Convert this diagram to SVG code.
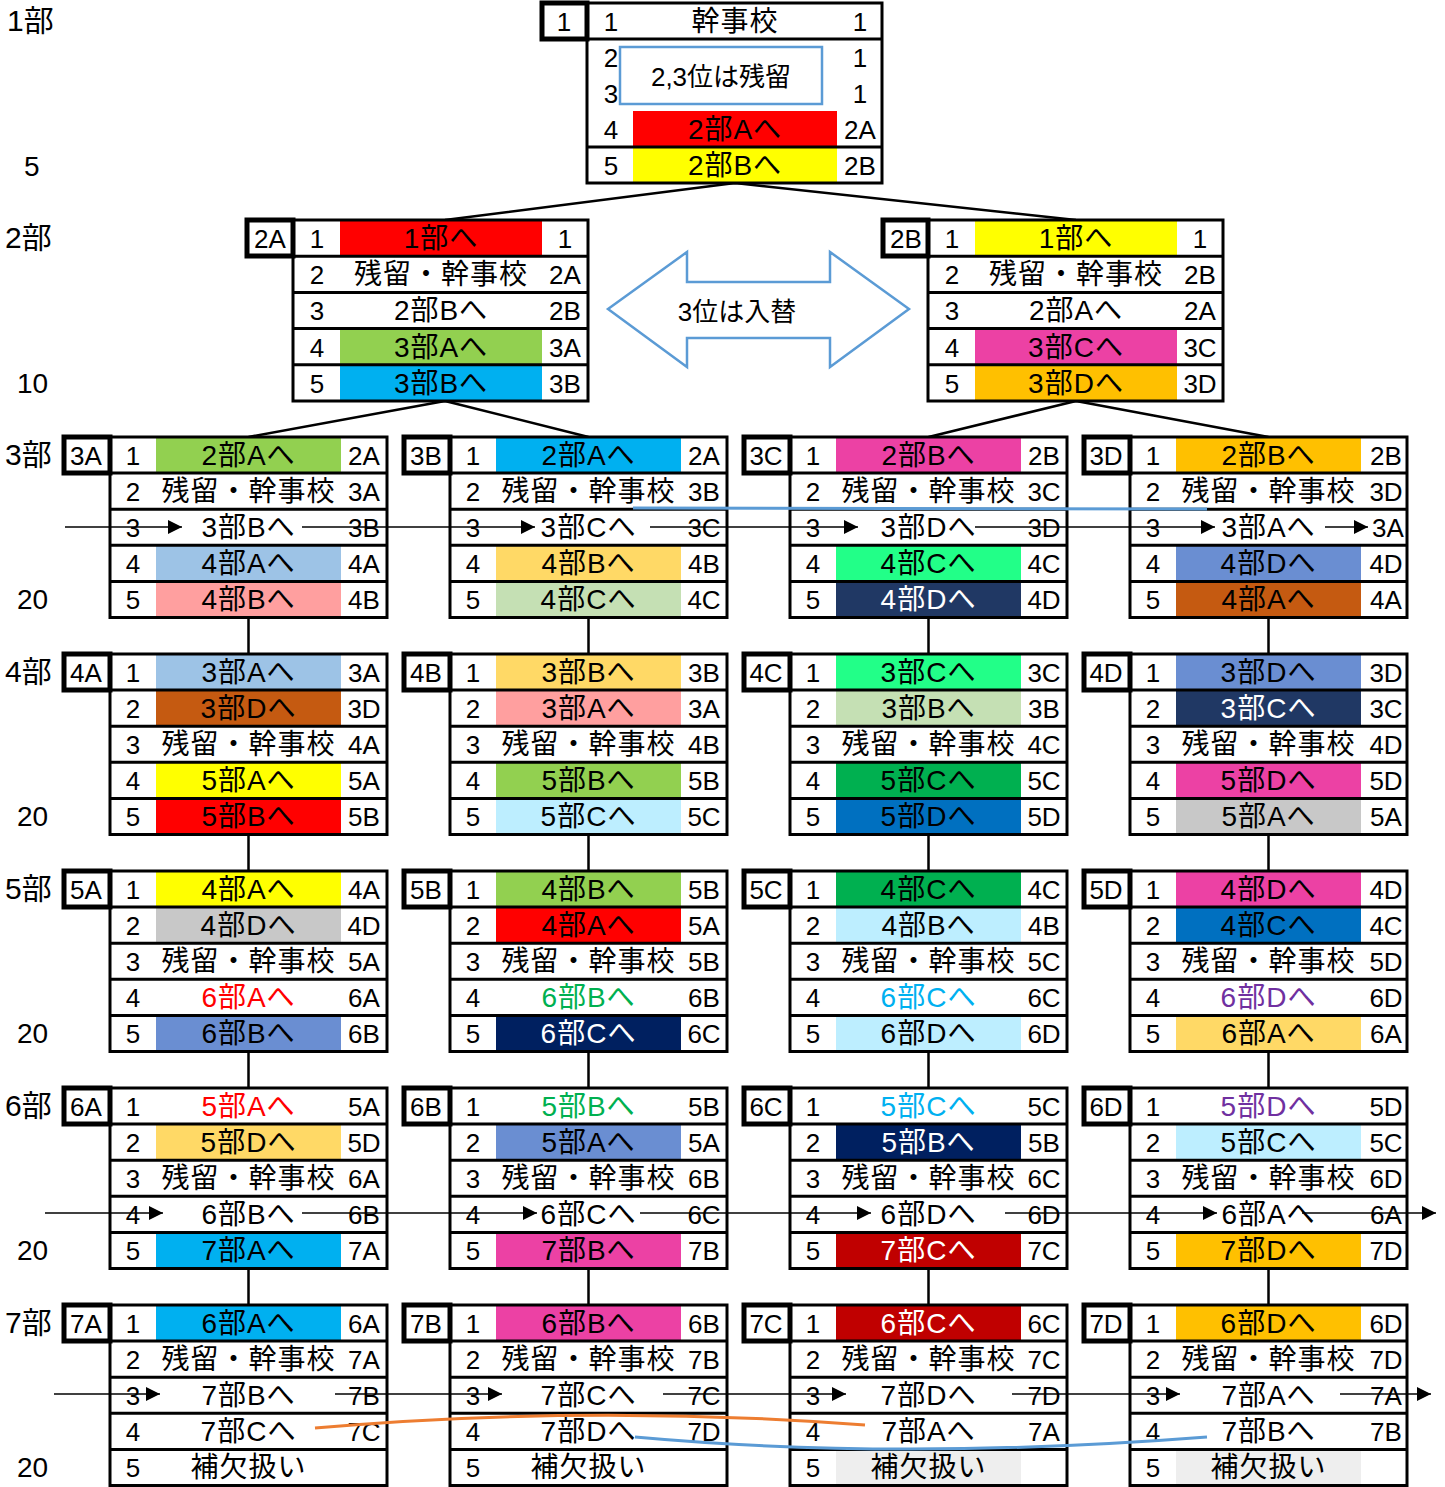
<svg xmlns="http://www.w3.org/2000/svg" width="1445" height="1487" viewBox="0 0 1445 1487">
<style>
text{font-family:"Liberation Sans","Noto Sans CJK JP",sans-serif;font-size:26px;text-anchor:middle;fill:#000}
.m{font-size:28px;letter-spacing:1px}
.s{text-anchor:start;font-size:28px}
.k{font-size:30px}
.w{fill:#fff}
.n{font-family:"Liberation Sans Narrow","Liberation Sans","Noto Sans CJK JP",sans-serif}
.tb{fill:none;stroke:#000;stroke-width:3}
.ln{fill:none;stroke:#000;stroke-width:3}
.lbl{fill:#fff;stroke:#000;stroke-width:5}
.cn{fill:none;stroke:#000;stroke-width:2.5}
.ar{fill:none;stroke:#000;stroke-width:1.3;marker-end:url(#ah)}
.bl{fill:none;stroke:#5B9BD5;stroke-width:3}
.or{fill:none;stroke:#ED7D31;stroke-width:3}
.note{fill:#fff;stroke:#5B9BD5;stroke-width:2.5}
</style>
<defs>
<marker id="ah" viewBox="0 0 10 10" refX="10" refY="5" markerWidth="15" markerHeight="14" markerUnits="userSpaceOnUse" orient="auto"><path d="M0,0L10,5L0,10z" fill="#000"/></marker>
</defs>
<rect width="1445" height="1487" fill="#fff"/>

<g id="levels">
<text class="s k" x="7" y="31">1部</text>
<text class="s" x="24" y="176">5</text>
<text class="s k" x="5" y="248">2部</text>
<text class="s" x="17" y="393">10</text>
<text class="s k" x="5" y="465">3部</text>
<text class="s" x="17" y="609">20</text>
<text class="s k" x="5" y="682">4部</text>
<text class="s" x="17" y="826">20</text>
<text class="s k" x="5" y="899">5部</text>
<text class="s" x="17" y="1043">20</text>
<text class="s k" x="5" y="1116">6部</text>
<text class="s" x="17" y="1260">20</text>
<text class="s k" x="5" y="1333">7部</text>
<text class="s" x="17" y="1477">20</text>
</g>

<g id="connectors">
<path class="cn" d="M735 183L445 220M735 183L1076 220M445 401L248.5 437M445 401L588.5 437M1076 401L928.5 437M1076 401L1268.5 437"/>
<path class="cn" d="M248.5 617.5V654M588.5 617.5V654M928.5 617.5V654M1268.5 617.5V654M248.5 834.5V871M588.5 834.5V871M928.5 834.5V871M1268.5 834.5V871M248.5 1051.5V1088M588.5 1051.5V1088M928.5 1051.5V1088M1268.5 1051.5V1088M248.5 1268.5V1305M588.5 1268.5V1305M928.5 1268.5V1305M1268.5 1268.5V1305"/>
</g>

<g id="t1">
<rect x="633" y="111" width="204" height="36" fill="#FF0000"/>
<rect x="633" y="147" width="204" height="36" fill="#FFFF00"/>
<rect class="tb" x="587" y="3" width="295" height="180"/>
<path class="ln" d="M587 39H882M587 147H882"/>
<rect class="lbl" x="542" y="3" width="45" height="36"/>
<text x="564" y="31">1</text>
<text><tspan x="611" y="31">1</tspan><tspan x="611" y="67">2</tspan><tspan x="611" y="103">3</tspan><tspan x="611" y="139">4</tspan><tspan x="611" y="175">5</tspan></text>
<text class="m" x="735" y="31">幹事校</text>
<text class="m" x="735" y="139">2部Aへ</text>
<text class="m" x="735" y="175">2部Bへ</text>
<text><tspan x="860" y="31">1</tspan><tspan x="860" y="67">1</tspan><tspan x="860" y="103">1</tspan><tspan x="860" y="139">2A</tspan><tspan x="860" y="175">2B</tspan></text>
</g>
<g id="note1">
<rect class="note" x="620" y="47" width="202" height="57"/>
<text x="721" y="86">2,3位は残留</text>
</g>

<g id="t2A">
<rect x="340" y="220" width="202" height="36.2" fill="#FF0000"/>
<rect x="340" y="328.6" width="202" height="36.2" fill="#92D050"/>
<rect x="340" y="364.8" width="202" height="36.2" fill="#00B0F0"/>
<rect class="tb" x="293" y="220" width="295" height="181"/>
<path class="ln" d="M293 256.2H588M293 292.4H588M293 328.6H588M293 364.8H588"/>
<rect class="lbl" x="247" y="220" width="46" height="36"/>
<text x="270" y="248">2A</text>
<text><tspan x="317" y="248">1</tspan><tspan x="317" y="284">2</tspan><tspan x="317" y="320">3</tspan><tspan x="317" y="357">4</tspan><tspan x="317" y="393">5</tspan></text>
<text class="m" x="441" y="248">1部へ</text>
<text class="m" x="441" y="284">残留・幹事校</text>
<text class="m" x="441" y="320">2部Bへ</text>
<text class="m" x="441" y="357">3部Aへ</text>
<text class="m" x="441" y="393">3部Bへ</text>
<text><tspan x="565" y="248">1</tspan><tspan x="565" y="284">2A</tspan><tspan x="565" y="320">2B</tspan><tspan x="565" y="357">3A</tspan><tspan x="565" y="393">3B</tspan></text>
</g>

<g id="t2B">
<rect x="975" y="220" width="202" height="36.2" fill="#FFFF00"/>
<rect x="975" y="328.6" width="202" height="36.2" fill="#EC41A4"/>
<rect x="975" y="364.8" width="202" height="36.2" fill="#FFC000"/>
<rect class="tb" x="928" y="220" width="295" height="181"/>
<path class="ln" d="M928 256.2H1223M928 292.4H1223M928 328.6H1223M928 364.8H1223"/>
<rect class="lbl" x="883" y="220" width="45" height="36"/>
<text x="906" y="248">2B</text>
<text><tspan x="952" y="248">1</tspan><tspan x="952" y="284">2</tspan><tspan x="952" y="320">3</tspan><tspan x="952" y="357">4</tspan><tspan x="952" y="393">5</tspan></text>
<text class="m" x="1076" y="248">1部へ</text>
<text class="m" x="1076" y="284">残留・幹事校</text>
<text class="m" x="1076" y="320">2部Aへ</text>
<text class="m" x="1076" y="357">3部Cへ</text>
<text class="m" x="1076" y="393">3部Dへ</text>
<text><tspan x="1200" y="248">1</tspan><tspan x="1200" y="284">2B</tspan><tspan x="1200" y="320">2A</tspan><tspan x="1200" y="357">3C</tspan><tspan x="1200" y="393">3D</tspan></text>
</g>

<g id="swap">
<polygon points="608,309 687,252 687,282 830,282 830,252 909,309 830,367 830,338 687,338 687,367" fill="#fff" stroke="#5B9BD5" stroke-width="2.5"/>
<text x="737" y="321">3位は入替</text>
</g>

<!-- Level 3 -->
<g id="t3A">
<rect x="156" y="437" width="185" height="36.1" fill="#92D050"/>
<rect x="156" y="545.3" width="185" height="36.1" fill="#9DC3E6"/>
<rect x="156" y="581.4" width="185" height="36.1" fill="#FF9F9F"/>
<rect class="tb" x="110" y="437" width="277" height="180.5"/>
<path class="ln" d="M110 473.1H387M110 509.2H387M110 545.3H387M110 581.4H387"/>
<rect class="lbl" x="64" y="437" width="46" height="36"/>
<text x="86" y="465">3A</text>
<text><tspan x="133" y="465">1</tspan><tspan x="133" y="501">2</tspan><tspan x="133" y="537">3</tspan><tspan x="133" y="573">4</tspan><tspan x="133" y="609">5</tspan></text>
<text class="m" x="248.5" y="465">2部Aへ</text>
<text class="m" x="248.5" y="501">残留・幹事校</text>
<text class="m" x="248.5" y="537">3部Bへ</text>
<text class="m" x="248.5" y="573">4部Aへ</text>
<text class="m" x="248.5" y="609">4部Bへ</text>
<text><tspan x="364" y="465">2A</tspan><tspan x="364" y="501">3A</tspan><tspan x="364" y="537">3B</tspan><tspan x="364" y="573">4A</tspan><tspan x="364" y="609">4B</tspan></text>
</g>
<g id="t3B">
<rect x="496" y="437" width="185" height="36.1" fill="#00B0F0"/>
<rect x="496" y="545.3" width="185" height="36.1" fill="#FFD966"/>
<rect x="496" y="581.4" width="185" height="36.1" fill="#C5E0B4"/>
<rect class="tb" x="450" y="437" width="277" height="180.5"/>
<path class="ln" d="M450 473.1H727M450 509.2H727M450 545.3H727M450 581.4H727"/>
<rect class="lbl" x="404" y="437" width="46" height="36"/>
<text x="426" y="465">3B</text>
<text><tspan x="473" y="465">1</tspan><tspan x="473" y="501">2</tspan><tspan x="473" y="537">3</tspan><tspan x="473" y="573">4</tspan><tspan x="473" y="609">5</tspan></text>
<text class="m" x="588.5" y="465">2部Aへ</text>
<text class="m" x="588.5" y="501">残留・幹事校</text>
<text class="m" x="588.5" y="537">3部Cへ</text>
<text class="m" x="588.5" y="573">4部Bへ</text>
<text class="m" x="588.5" y="609">4部Cへ</text>
<text><tspan x="704" y="465">2A</tspan><tspan x="704" y="501">3B</tspan><tspan x="704" y="537">3C</tspan><tspan x="704" y="573">4B</tspan><tspan x="704" y="609">4C</tspan></text>
</g>
<g id="t3C">
<rect x="836" y="437" width="185" height="36.1" fill="#EC41A4"/>
<rect x="836" y="545.3" width="185" height="36.1" fill="#22FF88"/>
<rect x="836" y="581.4" width="185" height="36.1" fill="#203864"/>
<rect class="tb" x="790" y="437" width="277" height="180.5"/>
<path class="ln" d="M790 473.1H1067M790 509.2H1067M790 545.3H1067M790 581.4H1067"/>
<rect class="lbl" x="744" y="437" width="46" height="36"/>
<text x="766" y="465">3C</text>
<text><tspan x="813" y="465">1</tspan><tspan x="813" y="501">2</tspan><tspan x="813" y="537">3</tspan><tspan x="813" y="573">4</tspan><tspan x="813" y="609">5</tspan></text>
<text class="m" x="928.5" y="465">2部Bへ</text>
<text class="m" x="928.5" y="501">残留・幹事校</text>
<text class="m" x="928.5" y="537">3部Dへ</text>
<text class="m" x="928.5" y="573">4部Cへ</text>
<text class="m w" x="928.5" y="609">4部Dへ</text>
<text><tspan x="1044" y="465">2B</tspan><tspan x="1044" y="501">3C</tspan><tspan x="1044" y="537">3D</tspan><tspan x="1044" y="573">4C</tspan><tspan x="1044" y="609">4D</tspan></text>
</g>
<g id="t3D">
<rect x="1176" y="437" width="185" height="36.1" fill="#FFC000"/>
<rect x="1176" y="545.3" width="185" height="36.1" fill="#6A8ED2"/>
<rect x="1176" y="581.4" width="185" height="36.1" fill="#C55A11"/>
<rect class="tb" x="1130" y="437" width="277" height="180.5"/>
<path class="ln" d="M1130 473.1H1407M1130 509.2H1407M1130 545.3H1407M1130 581.4H1407"/>
<rect class="lbl" x="1084" y="437" width="46" height="36"/>
<text x="1106" y="465">3D</text>
<text><tspan x="1153" y="465">1</tspan><tspan x="1153" y="501">2</tspan><tspan x="1153" y="537">3</tspan><tspan x="1153" y="573">4</tspan><tspan x="1153" y="609">5</tspan></text>
<text class="m" x="1268.5" y="465">2部Bへ</text>
<text class="m" x="1268.5" y="501">残留・幹事校</text>
<text class="m" x="1268.5" y="537">3部Aへ</text>
<text class="m" x="1268.5" y="573">4部Dへ</text>
<text class="m" x="1268.5" y="609">4部Aへ</text>
<text><tspan x="1386" y="465">2B</tspan><tspan x="1386" y="501">3D</tspan><tspan x="1388" y="537">3A</tspan><tspan x="1386" y="573">4D</tspan><tspan x="1386" y="609">4A</tspan></text>
</g>

<!-- Level 4 -->
<g id="t4A">
<rect x="156" y="654" width="185" height="36.1" fill="#9DC3E6"/>
<rect x="156" y="690.1" width="185" height="36.1" fill="#C55A11"/>
<rect x="156" y="762.3" width="185" height="36.1" fill="#FFFF00"/>
<rect x="156" y="798.4" width="185" height="36.1" fill="#FF0000"/>
<rect class="tb" x="110" y="654" width="277" height="180.5"/>
<path class="ln" d="M110 690.1H387M110 726.2H387M110 762.3H387M110 798.4H387"/>
<rect class="lbl" x="64" y="654" width="46" height="36"/>
<text x="86" y="682">4A</text>
<text><tspan x="133" y="682">1</tspan><tspan x="133" y="718">2</tspan><tspan x="133" y="754">3</tspan><tspan x="133" y="790">4</tspan><tspan x="133" y="826">5</tspan></text>
<text class="m" x="248.5" y="682">3部Aへ</text>
<text class="m" x="248.5" y="718">3部Dへ</text>
<text class="m" x="248.5" y="754">残留・幹事校</text>
<text class="m" x="248.5" y="790">5部Aへ</text>
<text class="m" x="248.5" y="826">5部Bへ</text>
<text><tspan x="364" y="682">3A</tspan><tspan x="364" y="718">3D</tspan><tspan x="364" y="754">4A</tspan><tspan x="364" y="790">5A</tspan><tspan x="364" y="826">5B</tspan></text>
</g>
<g id="t4B">
<rect x="496" y="654" width="185" height="36.1" fill="#FFD966"/>
<rect x="496" y="690.1" width="185" height="36.1" fill="#FF9F9F"/>
<rect x="496" y="762.3" width="185" height="36.1" fill="#92D050"/>
<rect x="496" y="798.4" width="185" height="36.1" fill="#BDEEFF"/>
<rect class="tb" x="450" y="654" width="277" height="180.5"/>
<path class="ln" d="M450 690.1H727M450 726.2H727M450 762.3H727M450 798.4H727"/>
<rect class="lbl" x="404" y="654" width="46" height="36"/>
<text x="426" y="682">4B</text>
<text><tspan x="473" y="682">1</tspan><tspan x="473" y="718">2</tspan><tspan x="473" y="754">3</tspan><tspan x="473" y="790">4</tspan><tspan x="473" y="826">5</tspan></text>
<text class="m" x="588.5" y="682">3部Bへ</text>
<text class="m" x="588.5" y="718">3部Aへ</text>
<text class="m" x="588.5" y="754">残留・幹事校</text>
<text class="m" x="588.5" y="790">5部Bへ</text>
<text class="m" x="588.5" y="826">5部Cへ</text>
<text><tspan x="704" y="682">3B</tspan><tspan x="704" y="718">3A</tspan><tspan x="704" y="754">4B</tspan><tspan x="704" y="790">5B</tspan><tspan x="704" y="826">5C</tspan></text>
</g>
<g id="t4C">
<rect x="836" y="654" width="185" height="36.1" fill="#22FF88"/>
<rect x="836" y="690.1" width="185" height="36.1" fill="#C5E0B4"/>
<rect x="836" y="762.3" width="185" height="36.1" fill="#00B050"/>
<rect x="836" y="798.4" width="185" height="36.1" fill="#0070C0"/>
<rect class="tb" x="790" y="654" width="277" height="180.5"/>
<path class="ln" d="M790 690.1H1067M790 726.2H1067M790 762.3H1067M790 798.4H1067"/>
<rect class="lbl" x="744" y="654" width="46" height="36"/>
<text x="766" y="682">4C</text>
<text><tspan x="813" y="682">1</tspan><tspan x="813" y="718">2</tspan><tspan x="813" y="754">3</tspan><tspan x="813" y="790">4</tspan><tspan x="813" y="826">5</tspan></text>
<text class="m" x="928.5" y="682">3部Cへ</text>
<text class="m" x="928.5" y="718">3部Bへ</text>
<text class="m" x="928.5" y="754">残留・幹事校</text>
<text class="m" x="928.5" y="790">5部Cへ</text>
<text class="m" x="928.5" y="826">5部Dへ</text>
<text><tspan x="1044" y="682">3C</tspan><tspan x="1044" y="718">3B</tspan><tspan x="1044" y="754">4C</tspan><tspan x="1044" y="790">5C</tspan><tspan x="1044" y="826">5D</tspan></text>
</g>
<g id="t4D">
<rect x="1176" y="654" width="185" height="36.1" fill="#6A8ED2"/>
<rect x="1176" y="690.1" width="185" height="36.1" fill="#203864"/>
<rect x="1176" y="762.3" width="185" height="36.1" fill="#EC41A4"/>
<rect x="1176" y="798.4" width="185" height="36.1" fill="#C8C8C8"/>
<rect class="tb" x="1130" y="654" width="277" height="180.5"/>
<path class="ln" d="M1130 690.1H1407M1130 726.2H1407M1130 762.3H1407M1130 798.4H1407"/>
<rect class="lbl" x="1084" y="654" width="46" height="36"/>
<text x="1106" y="682">4D</text>
<text><tspan x="1153" y="682">1</tspan><tspan x="1153" y="718">2</tspan><tspan x="1153" y="754">3</tspan><tspan x="1153" y="790">4</tspan><tspan x="1153" y="826">5</tspan></text>
<text class="m" x="1268.5" y="682">3部Dへ</text>
<text class="m w" x="1268.5" y="718">3部Cへ</text>
<text class="m" x="1268.5" y="754">残留・幹事校</text>
<text class="m" x="1268.5" y="790">5部Dへ</text>
<text class="m" x="1268.5" y="826">5部Aへ</text>
<text><tspan x="1386" y="682">3D</tspan><tspan x="1386" y="718">3C</tspan><tspan x="1386" y="754">4D</tspan><tspan x="1386" y="790">5D</tspan><tspan x="1386" y="826">5A</tspan></text>
</g>

<!-- Level 5 -->
<g id="t5A">
<rect x="156" y="871" width="185" height="36.1" fill="#FFFF00"/>
<rect x="156" y="907.1" width="185" height="36.1" fill="#C8C8C8"/>
<rect x="156" y="1015.4" width="185" height="36.1" fill="#6A8ED2"/>
<rect class="tb" x="110" y="871" width="277" height="180.5"/>
<path class="ln" d="M110 907.1H387M110 943.2H387M110 979.3H387M110 1015.4H387"/>
<rect class="lbl" x="64" y="871" width="46" height="36"/>
<text x="86" y="899">5A</text>
<text><tspan x="133" y="899">1</tspan><tspan x="133" y="935">2</tspan><tspan x="133" y="971">3</tspan><tspan x="133" y="1007">4</tspan><tspan x="133" y="1043">5</tspan></text>
<text class="m" x="248.5" y="899">4部Aへ</text>
<text class="m" x="248.5" y="935">4部Dへ</text>
<text class="m" x="248.5" y="971">残留・幹事校</text>
<text class="m" x="248.5" y="1007" style="fill:#FF0000">6部Aへ</text>
<text class="m" x="248.5" y="1043">6部Bへ</text>
<text><tspan x="364" y="899">4A</tspan><tspan x="364" y="935">4D</tspan><tspan x="364" y="971">5A</tspan><tspan x="364" y="1007">6A</tspan><tspan x="364" y="1043">6B</tspan></text>
</g>
<g id="t5B">
<rect x="496" y="871" width="185" height="36.1" fill="#92D050"/>
<rect x="496" y="907.1" width="185" height="36.1" fill="#FF0000"/>
<rect x="496" y="1015.4" width="185" height="36.1" fill="#002060"/>
<rect class="tb" x="450" y="871" width="277" height="180.5"/>
<path class="ln" d="M450 907.1H727M450 943.2H727M450 979.3H727M450 1015.4H727"/>
<rect class="lbl" x="404" y="871" width="46" height="36"/>
<text x="426" y="899">5B</text>
<text><tspan x="473" y="899">1</tspan><tspan x="473" y="935">2</tspan><tspan x="473" y="971">3</tspan><tspan x="473" y="1007">4</tspan><tspan x="473" y="1043">5</tspan></text>
<text class="m" x="588.5" y="899">4部Bへ</text>
<text class="m" x="588.5" y="935">4部Aへ</text>
<text class="m" x="588.5" y="971">残留・幹事校</text>
<text class="m" x="588.5" y="1007" style="fill:#00B050">6部Bへ</text>
<text class="m w" x="588.5" y="1043">6部Cへ</text>
<text><tspan x="704" y="899">5B</tspan><tspan x="704" y="935">5A</tspan><tspan x="704" y="971">5B</tspan><tspan x="704" y="1007">6B</tspan><tspan x="704" y="1043">6C</tspan></text>
</g>
<g id="t5C">
<rect x="836" y="871" width="185" height="36.1" fill="#00B050"/>
<rect x="836" y="907.1" width="185" height="36.1" fill="#BDEEFF"/>
<rect x="836" y="1015.4" width="185" height="36.1" fill="#BDEEFF"/>
<rect class="tb" x="790" y="871" width="277" height="180.5"/>
<path class="ln" d="M790 907.1H1067M790 943.2H1067M790 979.3H1067M790 1015.4H1067"/>
<rect class="lbl" x="744" y="871" width="46" height="36"/>
<text x="766" y="899">5C</text>
<text><tspan x="813" y="899">1</tspan><tspan x="813" y="935">2</tspan><tspan x="813" y="971">3</tspan><tspan x="813" y="1007">4</tspan><tspan x="813" y="1043">5</tspan></text>
<text class="m" x="928.5" y="899">4部Cへ</text>
<text class="m" x="928.5" y="935">4部Bへ</text>
<text class="m" x="928.5" y="971">残留・幹事校</text>
<text class="m" x="928.5" y="1007" style="fill:#00B0F0">6部Cへ</text>
<text class="m" x="928.5" y="1043">6部Dへ</text>
<text><tspan x="1044" y="899">4C</tspan><tspan x="1044" y="935">4B</tspan><tspan x="1044" y="971">5C</tspan><tspan x="1044" y="1007">6C</tspan><tspan x="1044" y="1043">6D</tspan></text>
</g>
<g id="t5D">
<rect x="1176" y="871" width="185" height="36.1" fill="#EC41A4"/>
<rect x="1176" y="907.1" width="185" height="36.1" fill="#0070C0"/>
<rect x="1176" y="1015.4" width="185" height="36.1" fill="#FFD966"/>
<rect class="tb" x="1130" y="871" width="277" height="180.5"/>
<path class="ln" d="M1130 907.1H1407M1130 943.2H1407M1130 979.3H1407M1130 1015.4H1407"/>
<rect class="lbl" x="1084" y="871" width="46" height="36"/>
<text x="1106" y="899">5D</text>
<text><tspan x="1153" y="899">1</tspan><tspan x="1153" y="935">2</tspan><tspan x="1153" y="971">3</tspan><tspan x="1153" y="1007">4</tspan><tspan x="1153" y="1043">5</tspan></text>
<text class="m" x="1268.5" y="899">4部Dへ</text>
<text class="m" x="1268.5" y="935">4部Cへ</text>
<text class="m" x="1268.5" y="971">残留・幹事校</text>
<text class="m" x="1268.5" y="1007" style="fill:#7030A0">6部Dへ</text>
<text class="m" x="1268.5" y="1043">6部Aへ</text>
<text><tspan x="1386" y="899">4D</tspan><tspan x="1386" y="935">4C</tspan><tspan x="1386" y="971">5D</tspan><tspan x="1386" y="1007">6D</tspan><tspan x="1386" y="1043">6A</tspan></text>
</g>

<!-- Level 6 -->
<g id="t6A">
<rect x="156" y="1124.1" width="185" height="36.1" fill="#FFD966"/>
<rect x="156" y="1232.4" width="185" height="36.1" fill="#00B0F0"/>
<rect class="tb" x="110" y="1088" width="277" height="180.5"/>
<path class="ln" d="M110 1124.1H387M110 1160.2H387M110 1196.3H387M110 1232.4H387"/>
<rect class="lbl" x="64" y="1088" width="46" height="36"/>
<text x="86" y="1116">6A</text>
<text><tspan x="133" y="1116">1</tspan><tspan x="133" y="1152">2</tspan><tspan x="133" y="1188">3</tspan><tspan x="133" y="1224">4</tspan><tspan x="133" y="1260">5</tspan></text>
<text class="m" x="248.5" y="1116" style="fill:#FF0000">5部Aへ</text>
<text class="m" x="248.5" y="1152">5部Dへ</text>
<text class="m" x="248.5" y="1188">残留・幹事校</text>
<text class="m" x="248.5" y="1224">6部Bへ</text>
<text class="m" x="248.5" y="1260">7部Aへ</text>
<text><tspan x="364" y="1116">5A</tspan><tspan x="364" y="1152">5D</tspan><tspan x="364" y="1188">6A</tspan><tspan x="364" y="1224">6B</tspan><tspan x="364" y="1260">7A</tspan></text>
</g>
<g id="t6B">
<rect x="496" y="1124.1" width="185" height="36.1" fill="#6A8ED2"/>
<rect x="496" y="1232.4" width="185" height="36.1" fill="#EC41A4"/>
<rect class="tb" x="450" y="1088" width="277" height="180.5"/>
<path class="ln" d="M450 1124.1H727M450 1160.2H727M450 1196.3H727M450 1232.4H727"/>
<rect class="lbl" x="404" y="1088" width="46" height="36"/>
<text x="426" y="1116">6B</text>
<text><tspan x="473" y="1116">1</tspan><tspan x="473" y="1152">2</tspan><tspan x="473" y="1188">3</tspan><tspan x="473" y="1224">4</tspan><tspan x="473" y="1260">5</tspan></text>
<text class="m" x="588.5" y="1116" style="fill:#00B050">5部Bへ</text>
<text class="m" x="588.5" y="1152">5部Aへ</text>
<text class="m" x="588.5" y="1188">残留・幹事校</text>
<text class="m" x="588.5" y="1224">6部Cへ</text>
<text class="m" x="588.5" y="1260">7部Bへ</text>
<text><tspan x="704" y="1116">5B</tspan><tspan x="704" y="1152">5A</tspan><tspan x="704" y="1188">6B</tspan><tspan x="704" y="1224">6C</tspan><tspan x="704" y="1260">7B</tspan></text>
</g>
<g id="t6C">
<rect x="836" y="1124.1" width="185" height="36.1" fill="#002060"/>
<rect x="836" y="1232.4" width="185" height="36.1" fill="#C00000"/>
<rect class="tb" x="790" y="1088" width="277" height="180.5"/>
<path class="ln" d="M790 1124.1H1067M790 1160.2H1067M790 1196.3H1067M790 1232.4H1067"/>
<rect class="lbl" x="744" y="1088" width="46" height="36"/>
<text x="766" y="1116">6C</text>
<text><tspan x="813" y="1116">1</tspan><tspan x="813" y="1152">2</tspan><tspan x="813" y="1188">3</tspan><tspan x="813" y="1224">4</tspan><tspan x="813" y="1260">5</tspan></text>
<text class="m" x="928.5" y="1116" style="fill:#00B0F0">5部Cへ</text>
<text class="m w" x="928.5" y="1152">5部Bへ</text>
<text class="m" x="928.5" y="1188">残留・幹事校</text>
<text class="m" x="928.5" y="1224">6部Dへ</text>
<text class="m w" x="928.5" y="1260">7部Cへ</text>
<text><tspan x="1044" y="1116">5C</tspan><tspan x="1044" y="1152">5B</tspan><tspan x="1044" y="1188">6C</tspan><tspan x="1044" y="1224">6D</tspan><tspan x="1044" y="1260">7C</tspan></text>
</g>
<g id="t6D">
<rect x="1176" y="1124.1" width="185" height="36.1" fill="#BDEEFF"/>
<rect x="1176" y="1232.4" width="185" height="36.1" fill="#FFC000"/>
<rect class="tb" x="1130" y="1088" width="277" height="180.5"/>
<path class="ln" d="M1130 1124.1H1407M1130 1160.2H1407M1130 1196.3H1407M1130 1232.4H1407"/>
<rect class="lbl" x="1084" y="1088" width="46" height="36"/>
<text x="1106" y="1116">6D</text>
<text><tspan x="1153" y="1116">1</tspan><tspan x="1153" y="1152">2</tspan><tspan x="1153" y="1188">3</tspan><tspan x="1153" y="1224">4</tspan><tspan x="1153" y="1260">5</tspan></text>
<text class="m" x="1268.5" y="1116" style="fill:#7030A0">5部Dへ</text>
<text class="m" x="1268.5" y="1152">5部Cへ</text>
<text class="m" x="1268.5" y="1188">残留・幹事校</text>
<text class="m" x="1268.5" y="1224">6部Aへ</text>
<text class="m" x="1268.5" y="1260">7部Dへ</text>
<text><tspan x="1386" y="1116">5D</tspan><tspan x="1386" y="1152">5C</tspan><tspan x="1386" y="1188">6D</tspan><tspan x="1386" y="1224">6A</tspan><tspan x="1386" y="1260">7D</tspan></text>
</g>

<!-- Level 7 -->
<g id="t7A">
<rect x="156" y="1305" width="185" height="36.1" fill="#00B0F0"/>
<rect class="tb" x="110" y="1305" width="277" height="180.5"/>
<path class="ln" d="M110 1341.1H387M110 1377.2H387M110 1413.3H387M110 1449.4H387"/>
<rect class="lbl" x="64" y="1305" width="46" height="36"/>
<text class="n" x="86" y="1333">7A</text>
<text class="n"><tspan x="133" y="1333">1</tspan><tspan x="133" y="1369">2</tspan><tspan x="133" y="1405">3</tspan><tspan x="133" y="1441">4</tspan><tspan x="133" y="1477">5</tspan></text>
<text class="m n" x="248.5" y="1333">6部Aへ</text>
<text class="m n" x="248.5" y="1369">残留・幹事校</text>
<text class="m n" x="248.5" y="1405">7部Bへ</text>
<text class="m n" x="248.5" y="1441">7部Cへ</text>
<text class="m n" x="248.5" y="1477">補欠扱い</text>
<text class="n"><tspan x="364" y="1333">6A</tspan><tspan x="364" y="1369">7A</tspan><tspan x="364" y="1405">7B</tspan><tspan x="364" y="1441">7C</tspan></text>
</g>
<g id="t7B">
<rect x="496" y="1305" width="185" height="36.1" fill="#EC41A4"/>
<rect class="tb" x="450" y="1305" width="277" height="180.5"/>
<path class="ln" d="M450 1341.1H727M450 1377.2H727M450 1413.3H727M450 1449.4H727"/>
<rect class="lbl" x="404" y="1305" width="46" height="36"/>
<text class="n" x="426" y="1333">7B</text>
<text class="n"><tspan x="473" y="1333">1</tspan><tspan x="473" y="1369">2</tspan><tspan x="473" y="1405">3</tspan><tspan x="473" y="1441">4</tspan><tspan x="473" y="1477">5</tspan></text>
<text class="m n" x="588.5" y="1333">6部Bへ</text>
<text class="m n" x="588.5" y="1369">残留・幹事校</text>
<text class="m n" x="588.5" y="1405">7部Cへ</text>
<text class="m n" x="588.5" y="1441">7部Dへ</text>
<text class="m n" x="588.5" y="1477">補欠扱い</text>
<text class="n"><tspan x="704" y="1333">6B</tspan><tspan x="704" y="1369">7B</tspan><tspan x="704" y="1405">7C</tspan><tspan x="704" y="1441">7D</tspan></text>
</g>
<g id="t7C">
<rect x="836" y="1305" width="185" height="36.1" fill="#C00000"/>
<rect x="836" y="1449.4" width="185" height="36.1" fill="#EEEEEE"/>
<rect class="tb" x="790" y="1305" width="277" height="180.5"/>
<path class="ln" d="M790 1341.1H1067M790 1377.2H1067M790 1413.3H1067M790 1449.4H1067"/>
<rect class="lbl" x="744" y="1305" width="46" height="36"/>
<text class="n" x="766" y="1333">7C</text>
<text class="n"><tspan x="813" y="1333">1</tspan><tspan x="813" y="1369">2</tspan><tspan x="813" y="1405">3</tspan><tspan x="813" y="1441">4</tspan><tspan x="813" y="1477">5</tspan></text>
<text class="m n w" x="928.5" y="1333">6部Cへ</text>
<text class="m n" x="928.5" y="1369">残留・幹事校</text>
<text class="m n" x="928.5" y="1405">7部Dへ</text>
<text class="m n" x="928.5" y="1441">7部Aへ</text>
<text class="m n" x="928.5" y="1477">補欠扱い</text>
<text class="n"><tspan x="1044" y="1333">6C</tspan><tspan x="1044" y="1369">7C</tspan><tspan x="1044" y="1405">7D</tspan><tspan x="1044" y="1441">7A</tspan></text>
</g>
<g id="t7D">
<rect x="1176" y="1305" width="185" height="36.1" fill="#FFC000"/>
<rect x="1176" y="1449.4" width="185" height="36.1" fill="#EEEEEE"/>
<rect class="tb" x="1130" y="1305" width="277" height="180.5"/>
<path class="ln" d="M1130 1341.1H1407M1130 1377.2H1407M1130 1413.3H1407M1130 1449.4H1407"/>
<rect class="lbl" x="1084" y="1305" width="46" height="36"/>
<text class="n" x="1106" y="1333">7D</text>
<text class="n"><tspan x="1153" y="1333">1</tspan><tspan x="1153" y="1369">2</tspan><tspan x="1153" y="1405">3</tspan><tspan x="1153" y="1441">4</tspan><tspan x="1153" y="1477">5</tspan></text>
<text class="m n" x="1268.5" y="1333">6部Dへ</text>
<text class="m n" x="1268.5" y="1369">残留・幹事校</text>
<text class="m n" x="1268.5" y="1405">7部Aへ</text>
<text class="m n" x="1268.5" y="1441">7部Bへ</text>
<text class="m n" x="1268.5" y="1477">補欠扱い</text>
<text class="n"><tspan x="1386" y="1333">6D</tspan><tspan x="1386" y="1369">7D</tspan><tspan x="1386" y="1405">7A</tspan><tspan x="1386" y="1441">7B</tspan></text>
</g>

<g id="flow-arrows">
<path class="ar" d="M65 527H182"/>
<path class="ar" d="M302 527H535"/>
<path class="ar" d="M650 527H858"/>
<path class="ar" d="M975 527H1215"/>
<path class="ar" d="M1325 527H1368"/>
<path class="ar" d="M45 1213H163"/>
<path class="ar" d="M302 1213H537"/>
<path class="ar" d="M640 1213H871"/>
<path class="ar" d="M1005 1213H1217"/>
<path class="ar" d="M1302 1213H1436"/>
<path class="ar" d="M54 1394H160"/>
<path class="ar" d="M335 1394H502"/>
<path class="ar" d="M663 1394H846"/>
<path class="ar" d="M1012 1394H1180"/>
<path class="ar" d="M1340 1394H1431"/>
<path class="bl" d="M633 508L1207 509"/>
<path class="or" d="M315 1428Q590 1404 865 1425"/>
<path class="bl" d="M635 1437Q900 1461 1207 1437"/>
</g>
</svg>
